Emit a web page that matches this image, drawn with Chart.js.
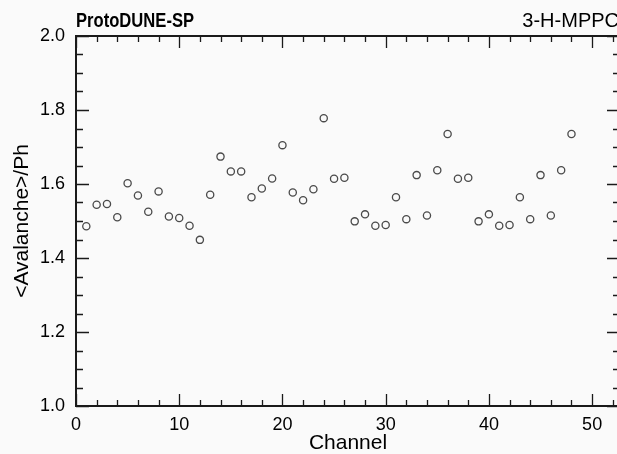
<!DOCTYPE html>
<html lang="en">
<head>
<meta charset="UTF-8">
<title>ProtoDUNE-SP 3-H-MPPC</title>
<script src="https://cdn.jsdelivr.net/npm/chart.js@4.4.0/dist/chart.umd.min.js"></script>
<style>
  html, body { margin: 0; padding: 0; background: #fafafa; overflow: hidden; }
  canvas { display: block; }
</style>
</head>
<body>
<canvas id="chart" width="626" height="454"></canvas>
<script>
// data
const channels = [1, 2, 3, 4, 5, 6, 7, 8, 9, 10, 11, 12, 13, 14, 15, 16,
  17, 18, 19, 20, 21, 22, 23, 24, 25, 26, 27, 28, 29, 30, 31, 32,
  33, 34, 35, 36, 37, 38, 39, 40, 41, 42, 43, 44, 45, 46, 47, 48];
const avalanchePerPh = [1.486, 1.544, 1.546, 1.510, 1.602, 1.569, 1.525, 1.580,
  1.512, 1.508, 1.487, 1.449, 1.571, 1.674, 1.634, 1.634,
  1.564, 1.588, 1.615, 1.705, 1.577, 1.556, 1.586, 1.778,
  1.614, 1.617, 1.499, 1.518, 1.487, 1.489, 1.564, 1.505,
  1.624, 1.515, 1.637, 1.735, 1.614, 1.617, 1.499, 1.518,
  1.487, 1.489, 1.564, 1.505, 1.624, 1.515, 1.637, 1.735];

const xTickValues = [0, 10, 20, 30, 40, 50];
const yTickValues = [1.0, 1.2, 1.4, 1.6, 1.8, 2.0];

const titleLeft = 'ProtoDUNE-SP';
const titleRight = '3-H-MPPC';
const xTitle = 'Channel';
const yTitle = '<Avalanche>/Ph';

const FONT = '"Liberation Sans", Arial, Helvetica, sans-serif';

// ROOT-like frame: inward ticks on all four sides + header texts
const rootFrame = {
  id: 'rootFrame',
  beforeDraw(chart) {
    const ctx = chart.ctx;
    ctx.save();
    ctx.fillStyle = '#fafafa';
    ctx.fillRect(0, 0, chart.width, chart.height);
    ctx.restore();
  },
  afterDraw(chart) {
    const { ctx, chartArea: a, scales: { x, y } } = chart;
    ctx.save();
    ctx.strokeStyle = '#1a1a1a';
    ctx.lineWidth = 1.3;
    ctx.beginPath();
    for (let v = 0; v <= x.max + 1e-9; v += 2) {
      const px = Math.round(x.getPixelForValue(v)) + 0.5;
      const len = v % 10 === 0 ? 12 : 6;
      ctx.moveTo(px, a.bottom); ctx.lineTo(px, a.bottom - len);
      ctx.moveTo(px, a.top); ctx.lineTo(px, a.top + len);
    }
    for (let i = 0; i <= 20; i++) {
      const py = Math.round(y.getPixelForValue(y.min + i * 0.05)) + 0.5;
      const len = i % 4 === 0 ? 13 : 7;
      ctx.moveTo(a.left, py); ctx.lineTo(a.left + len, py);
      ctx.moveTo(a.right, py); ctx.lineTo(a.right - len, py);
    }
    ctx.stroke();

    ctx.lineWidth = 2;
    ctx.strokeRect(a.left, a.top, a.right - a.left, a.bottom - a.top);

    ctx.fillStyle = '#000';
    ctx.textBaseline = 'alphabetic';
    // bold header is narrower in the original, squeeze it a bit
    ctx.save();
    ctx.translate(a.left, 27);
    ctx.scale(0.83, 1);
    ctx.textAlign = 'left';
    ctx.font = 'bold 20px ' + FONT;
    ctx.fillText(titleLeft, 0, 0);
    ctx.restore();
    ctx.textAlign = 'right';
    ctx.font = '20px ' + FONT;
    ctx.fillText(titleRight, a.right - 1, 27);
    ctx.restore();
  }
};

const ctx = document.getElementById('chart').getContext('2d');
const chart = new Chart(ctx, {
  type: 'scatter',
  data: {
    datasets: [{
      label: yTitle,
      data: channels.map((c, i) => ({ x: c, y: avalanchePerPh[i] })),
      pointStyle: 'circle',
      pointRadius: 3.6,
      pointBorderWidth: 1.3,
      pointBorderColor: '#4a4a4a',
      pointBackgroundColor: 'rgba(0,0,0,0)'
    }]
  },
  options: {
    responsive: false,
    animation: false,
    events: [],
    layout: { padding: { top: 36, right: 6, left: 0, bottom: 0 } },
    plugins: {
      legend: { display: false },
      tooltip: { enabled: false }
    },
    scales: {
      x: {
        type: 'linear',
        min: 0,
        max: 52.7,
        afterBuildTicks: s => { s.ticks = xTickValues.map(v => ({ value: v })); },
        afterFit: s => { s.height = 48; },
        border: { display: false },
        grid: { display: false, drawTicks: false },
        ticks: {
          autoSkip: false,
          maxRotation: 0,
          padding: 8,
          color: '#000',
          font: { family: FONT, size: 18 },
          callback: v => String(v)
        },
        title: {
          display: true,
          text: xTitle,
          color: '#000',
          font: { family: FONT, size: 21, lineHeight: 1 },
          padding: 0
        }
      },
      y: {
        type: 'linear',
        min: 1,
        max: 2,
        afterBuildTicks: s => { s.ticks = yTickValues.map(v => ({ value: v })); },
        afterFit: s => { s.width = 76; },
        border: { display: false },
        grid: { display: false, drawTicks: false },
        ticks: {
          autoSkip: false,
          padding: 11,
          color: '#000',
          font: { family: FONT, size: 18 },
          callback: v => Number(v).toFixed(1)
        },
        title: {
          display: true,
          text: yTitle,
          color: '#000',
          font: { family: FONT, size: 21, lineHeight: 1 },
          padding: { top: 12, bottom: 0 }
        }
      }
    }
  },
  plugins: [rootFrame]
});
</script>
</body>
</html>
